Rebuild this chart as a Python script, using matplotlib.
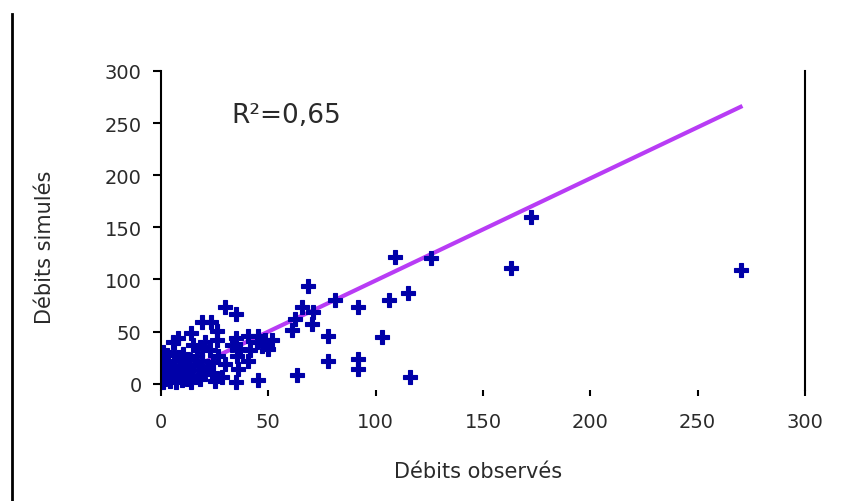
import matplotlib.pyplot as plt
from matplotlib.lines import Line2D

# débits observés / simulés (m3/s)
obs = [270, 172.6, 163, 125.6, 109, 115, 106, 92, 81, 68.5, 103, 92, 92, 116, 78, 78,
       65.5, 71, 62.5, 70.5, 61, 63.5,
       30, 35, 19, 23.5, 26, 14, 8, 5.7, 26, 35, 40.5, 45.3, 48.4, 51.6, 44.6, 37, 41.5,
       40.7, 36, 35, 45, 29.8, 28.3, 24.4, 19, 15, 20.5, 22.8, 16.6, 10.4, 13.5, 9.6,
       26.7, 35.3, 33, 25, 50, 47,
       1, 1, 4, 1, 7, 12, 12, 6.5, 0, 17.4, 21.3, 2, 3, 5, 8, 10, 14, 15, 18, 20, 3, 6,
       9, 2, 11, 4, 7, 0.5, 13, 19, 22, 24, 1]
sim = [109, 160, 111, 121, 122, 87, 80, 74, 80, 94, 45, 24, 14, 6.5, 46, 22,
       73.5, 68.5, 62, 57.5, 52, 8.6,
       74, 67, 59.5, 59.5, 51, 48.5, 44, 40, 41.5, 44, 46, 46, 41.5, 41.5, 40, 33.6, 32,
       22, 14.4, 2, 3.5, 19, 6.4, 20.8, 33.6, 36.7, 40, 32, 27, 28.8, 22.4, 17.5,
       27, 27, 36.7, 3, 33, 36,
       24, 14.4, 8, 1.6, 1.6, 4.8, 11, 22, 11, 12.8, 17.5, 5, 18, 13, 10, 4, 2, 8, 5, 10,
       28, 30, 25, 20, 16, 3, 7, 6, 18, 22, 14, 10, 30]

# droite de tendance
pente = 0.98
ordonnee = 1.0
r2_label = "R²=0,65"

fig = plt.figure(figsize=(8.53, 5.02), dpi=100)
ax = fig.add_axes([0.1887, 0.2211, 0.755, 0.6355])

ax.plot(obs, sim, linestyle='none', marker='P', markersize=9.5,
        color='#0000a8', markeredgecolor='#0000a8', markeredgewidth=0.8)

x_tend = [min(obs), max(obs)]
y_tend = [pente * x + ordonnee for x in x_tend]
ax.plot(x_tend, y_tend, color='#b83cf5', linewidth=3, zorder=1)

ax.set_xlim(0, 300)
ax.set_ylim(-6, 300)
ax.set_xticks([0, 50, 100, 150, 200, 250, 300])
ax.set_yticks([0, 50, 100, 150, 200, 250, 300])

ax.spines['top'].set_visible(False)
ax.spines['bottom'].set_visible(False)
ax.spines['left'].set_linewidth(1.5)
ax.spines['right'].set_linewidth(1.5)

ax.tick_params(axis='x', direction='out', length=4.5, width=1.5, pad=11,
               labelsize=14, labelcolor='#2a2a2a')
ax.tick_params(axis='y', direction='out', length=6, width=1.5, pad=8,
               labelsize=14, labelcolor='#2a2a2a')

ax.text(33, 258, r2_label, fontsize=19, ha='left', va='center', color='#2a2a2a')

fig.text(478 / 853, 1 - 472 / 502, "Débits observés", fontsize=15,
         ha='center', va='center', color='#2a2a2a')
fig.text(45 / 853, 1 - 247 / 502, "Débits simulés", fontsize=15, rotation=90,
         ha='center', va='center', color='#2a2a2a')

# trait vertical à gauche de la figure
fig.add_artist(Line2D([12 / 853, 12 / 853], [0, 1 - 15 / 502],
                      transform=fig.transFigure, color='black', linewidth=2))

fig.savefig('out.png', dpi=100)
